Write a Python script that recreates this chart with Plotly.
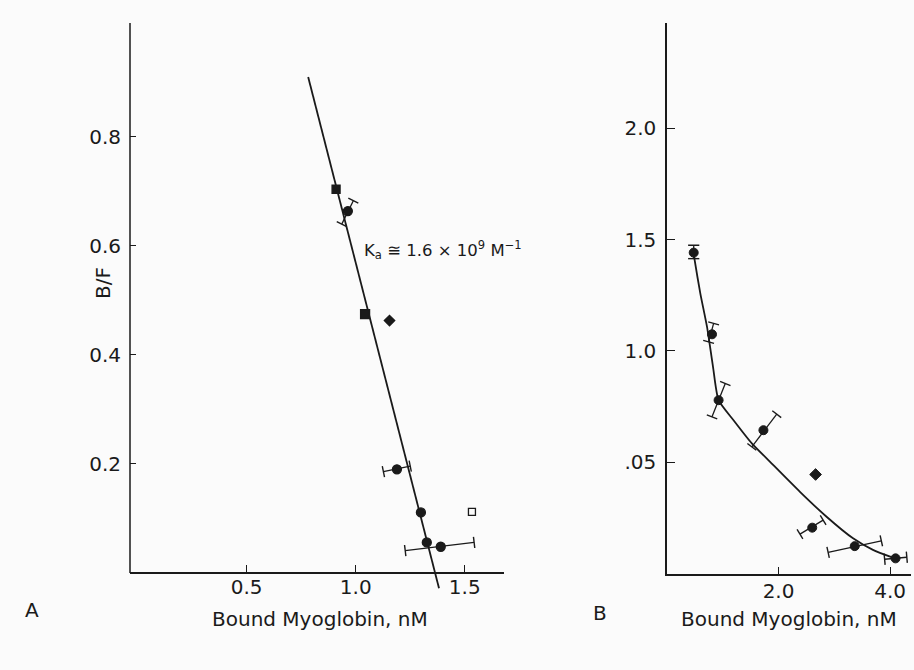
import math
import plotly.graph_objects as go

W, H = 914, 670
INK = "#1a1a1a"
FONT = "DejaVu Sans"

# ---------------- Panel A: Scatchard plot ----------------
a_x = [0.910, 0.964, 1.043, 1.155, 1.189, 1.299, 1.326, 1.390, 1.533]
a_y = [0.704, 0.664, 0.475, 0.463, 0.190, 0.111, 0.056, 0.048, 0.112]
a_symbols = ["square", "circle", "square", "diamond", "circle",
             "circle", "circle", "circle", "square-open"]
a_sizes = [8, 9, 9, 8, 9, 9, 9, 9, 7]

# error bars: low end and high end of each bar
a_err_lo_x = [0.936, 1.127, 1.227]
a_err_lo_y = [0.640, 0.186, 0.041]
a_err_hi_x = [0.989, 1.250, 1.543]
a_err_hi_y = [0.683, 0.196, 0.056]

# fitted straight line (slope = -Ka)
a_fit_x = [0.782, 1.382]
a_fit_y = [0.910, -0.028]

a_xticks = [0.5, 1.0, 1.5]
a_xticktext = ["0.5", "1.0", "1.5"]
a_yticks = [0.2, 0.4, 0.6, 0.8]
a_yticktext = ["0.2", "0.4", "0.6", "0.8"]

# ---------------- Panel B: curved plot ----------------
b_x = [0.479, 0.807, 0.925, 1.729, 2.664, 2.604, 3.366, 4.098]
b_y = [1.442, 1.075, 0.779, 0.644, 0.445, 0.206, 0.123, 0.068]
b_symbols = ["circle", "circle", "circle", "circle", "diamond",
             "circle", "circle", "circle"]
b_sizes = [9, 9, 9, 9, 9, 9, 9, 9]

b_err_lo_x = [0.479, 0.746, 0.807, 1.521, 2.384, 2.889, 3.902]
b_err_lo_y = [1.415, 1.041, 0.704, 0.569, 0.177, 0.095, 0.064]
b_err_hi_x = [0.479, 0.836, 1.045, 1.968, 2.800, 3.843, 4.300]
b_err_hi_y = [1.475, 1.124, 0.854, 0.716, 0.240, 0.147, 0.073]

b_curve_x = [0.479, 0.496, 0.598, 0.718, 0.825, 0.925, 1.193,
             1.521, 1.907, 2.384, 2.861, 3.336, 3.693, 4.050]
b_curve_y = [1.442, 1.408, 1.258, 1.108, 0.929, 0.779, 0.689,
             0.585, 0.487, 0.367, 0.255, 0.158, 0.106, 0.071]

b_xticks = [2.0, 4.0]
b_xticktext = ["2.0", "4.0"]
b_yticks = [0.5, 1.0, 1.5, 2.0]
b_yticktext = [".05", "1.0", "1.5", "2.0"]

# ---------------- geometry (pixels) ----------------
A_LEFT, A_RIGHT, A_TOP, A_BOTTOM, A_XAXIS = 130, 504, 23, 592, 573
B_LEFT, B_RIGHT, B_TOP, B_BOTTOM = 667, 911, 23, 573.5
A_XRANGE = [-0.035, 1.68]
A_YRANGE = [-0.035, 1.009]
B_XRANGE = [0.0, 4.375]
B_YRANGE = [0.0, 2.474]


def px(x):
    return x / W


def py(y):
    return 1 - y / H


# pixels per data unit, used to orient the error-bar caps
A_SX = (A_RIGHT - A_LEFT) / (A_XRANGE[1] - A_XRANGE[0])
A_SY = (A_BOTTOM - A_TOP) / (A_YRANGE[1] - A_YRANGE[0])
B_SX = (B_RIGHT - B_LEFT) / (B_XRANGE[1] - B_XRANGE[0])
B_SY = (B_BOTTOM - B_TOP) / (B_YRANGE[1] - B_YRANGE[0])


def error_traces(lo_x, lo_y, hi_x, hi_y, sx, sy, xa, ya):
    seg_x, seg_y = [], []
    cap_x, cap_y, cap_a = [], [], []
    for x0, y0, x1, y1 in zip(lo_x, lo_y, hi_x, hi_y):
        seg_x += [x0, x1, None]
        seg_y += [y0, y1, None]
        theta = math.degrees(math.atan2((y1 - y0) * sy, (x1 - x0) * sx))
        cap_x += [x0, x1]
        cap_y += [y0, y1]
        cap_a += [-theta, -theta]
    segs = go.Scatter(x=seg_x, y=seg_y, mode="lines", xaxis=xa, yaxis=ya,
                      line=dict(color=INK, width=1.3), hoverinfo="skip",
                      showlegend=False)
    caps = go.Scatter(x=cap_x, y=cap_y, mode="markers", xaxis=xa, yaxis=ya,
                      marker=dict(symbol="line-ns", size=8, angle=cap_a, opacity=1,
                                  line=dict(color=INK, width=1.4)),
                      hoverinfo="skip", showlegend=False)
    return [segs, caps]


fig = go.Figure()

# Panel A
fig.add_trace(go.Scatter(x=a_fit_x, y=a_fit_y, mode="lines", xaxis="x", yaxis="y",
                         line=dict(color=INK, width=1.8), showlegend=False))
for t in error_traces(a_err_lo_x, a_err_lo_y, a_err_hi_x, a_err_hi_y,
                      A_SX, A_SY, "x", "y"):
    fig.add_trace(t)
fig.add_trace(go.Scatter(x=a_x, y=a_y, mode="markers", xaxis="x", yaxis="y",
                         opacity=1,
                         marker=dict(symbol=a_symbols, size=a_sizes, color=INK, opacity=1,
                                     line=dict(color=INK, width=1.3)),
                         showlegend=False))

# Panel B
fig.add_trace(go.Scatter(x=b_curve_x, y=b_curve_y, mode="lines", xaxis="x2", yaxis="y2",
                         line=dict(color=INK, width=1.8, shape="spline", smoothing=0.6),
                         showlegend=False))
for t in error_traces(b_err_lo_x, b_err_lo_y, b_err_hi_x, b_err_hi_y,
                      B_SX, B_SY, "x2", "y2"):
    fig.add_trace(t)
fig.add_trace(go.Scatter(x=b_x, y=b_y, mode="markers", xaxis="x2", yaxis="y2",
                         opacity=1,
                         marker=dict(symbol=b_symbols, size=b_sizes, color=INK, opacity=1,
                                     line=dict(color=INK, width=1)),
                         showlegend=False))

tickfont = dict(family=FONT, size=20, color=INK)
textfont = dict(family=FONT, size=20, color=INK)


def label(text, x, y, **kw):
    d = dict(text=text, x=px(x), y=py(y), xref="paper", yref="paper",
             xanchor="center", yanchor="middle", showarrow=False, font=textfont)
    d.update(kw)
    return d


fig.update_layout(
    width=W, height=H,
    margin=dict(l=0, r=0, t=0, b=0),
    paper_bgcolor="#fbfbfb", plot_bgcolor="rgba(0,0,0,0)",
    font=dict(family=FONT, color=INK),
    xaxis=dict(domain=[px(A_LEFT), px(A_RIGHT)], range=A_XRANGE,
               anchor="free", position=py(A_XAXIS),
               showline=True, linecolor=INK, linewidth=1.5,
               ticks="inside", ticklen=7, tickwidth=1.3, tickcolor=INK,
               tickvals=a_xticks, ticktext=a_xticktext, tickfont=tickfont,
               ticklabelstandoff=-4,
               showgrid=False, zeroline=False, fixedrange=True),
    yaxis=dict(domain=[py(A_BOTTOM), py(A_TOP)], range=A_YRANGE, anchor="x",
               showline=False,
               ticks="inside", ticklen=6, tickwidth=1.3, tickcolor=INK,
               tickvals=a_yticks, ticktext=a_yticktext, tickfont=tickfont,
               ticklabelstandoff=8,
               showgrid=False, zeroline=False, fixedrange=True),
    xaxis2=dict(domain=[px(B_LEFT), px(B_RIGHT)], range=B_XRANGE, anchor="y2",
                showline=True, linecolor=INK, linewidth=1.5,
                ticks="inside", ticklen=7, tickwidth=1.3, tickcolor=INK,
                tickvals=b_xticks, ticktext=b_xticktext, tickfont=tickfont,
                ticklabelstandoff=-1,
                showgrid=False, zeroline=False, fixedrange=True),
    yaxis2=dict(domain=[py(B_BOTTOM), py(B_TOP)], range=B_YRANGE, anchor="x2",
                showline=True, linecolor=INK, linewidth=1.5,
                ticks="inside", ticklen=8, tickwidth=1.3, tickcolor=INK,
                tickvals=b_yticks, ticktext=b_yticktext, tickfont=tickfont,
                ticklabelstandoff=5,
                showgrid=False, zeroline=False, fixedrange=True),
    shapes=[
        # vertical axis of panel A, from the x-axis upward
        dict(type="line", xref="paper", yref="paper",
             x0=px(A_LEFT), x1=px(A_LEFT), y0=py(A_XAXIS), y1=py(A_TOP),
             line=dict(color=INK, width=1.5)),
    ],
    annotations=[
        label("B/F", 103, 283, textangle=-90),
        label("Bound Myoglobin, nM", 320, 619),
        label("Bound Myoglobin, nM", 789, 619),
        label("A", 31.5, 610),
        label("B", 600, 613),
        label("K<sub>a</sub> ≅ 1.6 × 10<sup>9</sup> M<sup>−1</sup>", 362, 250,
              xanchor="left", font=dict(family=FONT, size=16.5, color=INK)),
    ],
)

fig.write_html("out.html")
